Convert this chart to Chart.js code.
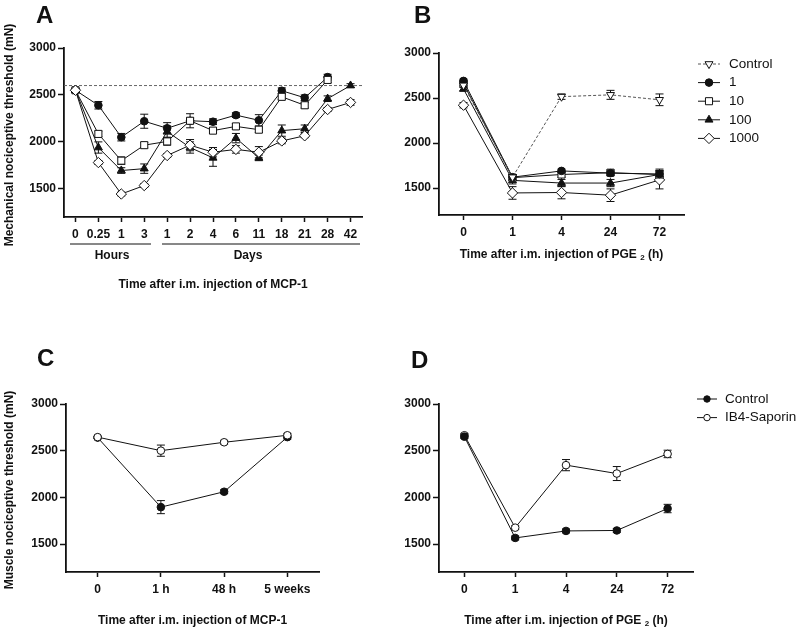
<!DOCTYPE html>
<html><head><meta charset="utf-8">
<script src="https://cdn.jsdelivr.net/npm/chart.js@4.4.1/dist/chart.umd.min.js"></script>
<style>
html,body{margin:0;padding:0;background:#fff;width:800px;height:630px;overflow:hidden}
canvas{position:absolute}
</style></head><body>
<canvas id="cA" width="380" height="300" style="left:0;top:0"></canvas>
<canvas id="cB" width="420" height="300" style="left:380px;top:0"></canvas>
<canvas id="cC" width="380" height="330" style="left:0;top:300px"></canvas>
<canvas id="cD" width="420" height="330" style="left:380px;top:300px"></canvas>
<script>
// ---------- DATA ----------
const yTicks = [1500, 2000, 2500, 3000];
const yMin = 1200, yMax = 3000;

// Panel A
const catsA = ['0','0.25','1','3','1','2','4','6','11','18','21','28','42'];
const refA = 2600;
const a1      = [2550, 2390, 2050, 2220, 2145, 2225, 2215, 2285, 2230, 2545, 2470, 2690];
const a1Err   = [  20,   40,   40,   75,   60,   30,   30,   25,   60,   30,   30,   30];
const a10     = [2550, 2085, 1800, 1965, 2005, 2225, 2120, 2165, 2130, 2480, 2390, 2660];
const a10Err  = [  20,   30,   40,   30,   40,   75,   30,   30,   30,   30,   30,   30];
const a100    = [2550, 1940, 1695, 1715, 2110, 1940, 1830, 2040, 1830, 2120, 2140, 2460, 2600];
const a100Err = [  20,   60,   30,   50,   60,   60,   90,   50,   30,   60,   40,   30,   20];
const a1000   = [2550, 1780, 1445, 1535, 1855, 1965, 1890, 1920, 1890, 2010, 2065, 2345, 2420];
const a1000Err= [  20,   20,   20,   20,   20,   60,   50,   40,   60,   30,   20,   20,   30];

// Panel B
const catsB = ['0','1','4','24','72'];
const bCtrl    = [2640, 1620, 2515, 2535, 2480];
const bCtrlErr = [  20,   30,   30,   50,   65];
const b1       = [2690, 1620, 1690, 1665, 1655];
const b1Err    = [  20,   30,   20,   20,   40];
const b10      = [2660, 1615, 1650, 1670, 1650];
const b10Err   = [  20,   30,   30,   30,   40];
const b100     = [2600, 1585, 1555, 1555, 1650];
const b100Err  = [  20,   40,   40,   40,   60];
const b1000    = [2420, 1445, 1450, 1420, 1590];
const b1000Err = [  30,   70,   70,   70,  100];

// Panel C
const catsC = ['0','1 h','48 h','5 weeks'];
const cCtrl    = [2640, 1895, 2060, 2645];
const cCtrlErr = [  10,   70,   20,   20];
const cSap     = [2645, 2500, 2590, 2665];
const cSapErr  = [  10,   60,   20,   20];

// Panel D
const catsD = ['0','1','4','24','72'];
const dCtrl    = [2650, 1565, 1640, 1645, 1880];
const dCtrlErr = [  20,   20,   20,   20,   45];
const dSap     = [2665, 1675, 2345, 2255, 2465];
const dSapErr  = [  20,   20,   60,   75,   40];

// ---------- STYLE ----------
const FF = "'Liberation Sans', Arial, sans-serif";
const INK = '#111';

const errorBars = {
  id: 'errorBars',
  beforeDatasetsDraw(chart) {
    const ctx = chart.ctx, ys = chart.scales.y;
    chart.data.datasets.forEach((ds, i) => {
      if (!ds.errors) return;
      const meta = chart.getDatasetMeta(i);
      ctx.save();
      ctx.strokeStyle = INK; ctx.lineWidth = 1; ctx.setLineDash([]);
      meta.data.forEach((pt, j) => {
        const v = ds.data[j], e = ds.errors[j];
        if (v == null || !e) return;
        const y1 = ys.getPixelForValue(v - e), y2 = ys.getPixelForValue(v + e);
        ctx.beginPath();
        ctx.moveTo(pt.x, y1); ctx.lineTo(pt.x, y2);
        ctx.moveTo(pt.x - 4, y1); ctx.lineTo(pt.x + 4, y1);
        ctx.moveTo(pt.x - 4, y2); ctx.lineTo(pt.x + 4, y2);
        ctx.stroke();
      });
      ctx.restore();
    });
  }
};
Chart.register(errorBars);

function series(label, data, errors, style, extra) {
  const s = {
    circle:   {pointStyle:'circle',   radius:3.8, bg:INK,   rot:0},
    circleO:  {pointStyle:'circle',   radius:3.8, bg:'#fff',rot:0},
    rect:     {pointStyle:'rect',     radius:5,   bg:'#fff',rot:0},
    tri:      {pointStyle:'triangle', radius:4.6, bg:INK,   rot:0},
    diamond:  {pointStyle:'rectRot',  radius:5.2, bg:'#fff',rot:0},
    triDown:  {pointStyle:'triangle', radius:4.6, bg:'#fff',rot:180}
  }[style];
  return Object.assign({
    label, data, errors,
    borderColor: INK, borderWidth: 1, tension: 0, fill: false,
    pointStyle: s.pointStyle, pointRadius: s.radius, pointHoverRadius: s.radius,
    pointRotation: s.rot, pointBackgroundColor: s.bg, pointBorderColor: INK, pointBorderWidth: 1
  }, extra || {});
}

function scales(cats, yW, xH) {
  const gridCommon = {display:true, drawOnChartArea:false, drawTicks:true, tickColor:INK, tickWidth:1.5, offset:false};
  return {
    x: {
      type:'category', labels:cats, offset:true,
      grid: Object.assign({tickLength:5}, gridCommon),
      border: {display:true, color:INK, width:1.8},
      ticks: {color:INK, font:{family:FF, size:12, weight:'bold'}, padding:5, maxRotation:0, autoSkip:false},
      afterFit(s){ s.height = xH; }
    },
    y: {
      type:'linear', min:yMin, max:yMax,
      afterBuildTicks(s){ s.ticks = yTicks.map(v => ({value:v})); },
      grid: Object.assign({tickLength:6}, gridCommon),
      border: {display:true, color:INK, width:1.8},
      ticks: {color:INK, font:{family:FF, size:12, weight:'bold'}, padding:2, callback: v => String(v)},
      afterFit(s){ s.width = yW; }
    }
  };
}

function txt(ctx, t, x, y, font, align) {
  ctx.save(); ctx.fillStyle = INK; ctx.font = font;
  ctx.textAlign = align || 'center'; ctx.textBaseline = 'middle';
  ctx.fillText(t, x, y); ctx.restore();
}
function vtxt(ctx, t, x, y, font) {
  ctx.save(); ctx.translate(x, y); ctx.rotate(-Math.PI/2);
  ctx.fillStyle = INK; ctx.font = font; ctx.textAlign = 'center'; ctx.textBaseline = 'middle';
  ctx.fillText(t, 0, 0); ctx.restore();
}
function pgeTitle(ctx, cx, y) {
  const f1 = 'bold 12px ' + FF, f2 = 'bold 8px ' + FF;
  const p1 = 'Time after i.m. injection of PGE ', p2 = '2', p3 = ' (h)';
  ctx.save(); ctx.fillStyle = INK; ctx.textBaseline = 'middle'; ctx.textAlign = 'left';
  ctx.font = f1; const w1 = ctx.measureText(p1).width, w3 = ctx.measureText(p3).width;
  ctx.font = f2; const w2 = ctx.measureText(p2).width;
  let x = cx - (w1 + w2 + w3) / 2;
  ctx.font = f1; ctx.fillText(p1, x, y); x += w1;
  ctx.font = f2; ctx.fillText(p2, x, y + 3); x += w2;
  ctx.font = f1; ctx.fillText(p3, x, y);
  ctx.restore();
}
function legend(chart, x0, x1, tx, y0, dy, rScale, fontSize) {
  const ctx = chart.ctx;
  chart.data.datasets.forEach((ds, i) => {
    const y = y0 + i * dy;
    ctx.save();
    ctx.strokeStyle = ds.borderColor; ctx.lineWidth = 1;
    ctx.setLineDash(ds.borderDash || []);
    ctx.beginPath(); ctx.moveTo(x0, y); ctx.lineTo(x1, y); ctx.stroke();
    ctx.setLineDash([]);
    ctx.fillStyle = ds.pointBackgroundColor; ctx.strokeStyle = ds.pointBorderColor; ctx.lineWidth = 1;
    Chart.helpers.drawPoint(ctx, {pointStyle: ds.pointStyle, radius: ds.pointRadius * rScale,
      rotation: ds.pointRotation, borderWidth: 1}, (x0 + x1) / 2, y);
    ctx.restore();
    txt(ctx, ds.label, tx, y, fontSize + 'px ' + FF, 'left');
  });
}

const TITLE = 'bold 12px ' + FF;
const LETTER = 'bold 24px ' + FF;

function baseOpts(cats, pad, yW, xH) {
  return {
    responsive:false, animation:false, devicePixelRatio:1,
    layout:{padding:pad},
    plugins:{legend:{display:false}, tooltip:{enabled:false}, title:{display:false}},
    scales: scales(cats, yW, xH)
  };
}

// ---------- PANEL A ----------
new Chart(document.getElementById('cA'), {
  type:'line',
  data:{ labels:catsA, datasets:[
    series('1000', a1000, a1000Err, 'diamond'),
    series('100', a100, a100Err, 'tri'),
    series('10', a10, a10Err, 'rect'),
    series('1', a1, a1Err, 'circle')
  ]},
  options: baseOpts(catsA, {left:0, top:48, right:18, bottom:0}, 64, 83),
  plugins:[{
    id:'decoA',
    beforeDatasetsDraw(chart){
      const ctx = chart.ctx, a = chart.chartArea, y = chart.scales.y.getPixelForValue(refA);
      ctx.save(); ctx.strokeStyle = '#666'; ctx.lineWidth = 1; ctx.setLineDash([3,2]);
      ctx.beginPath(); ctx.moveTo(a.left, y); ctx.lineTo(a.right, y); ctx.stroke(); ctx.restore();
    },
    afterDraw(chart){
      const ctx = chart.ctx, a = chart.chartArea;
      txt(ctx, 'A', 36, 16, LETTER, 'left');
      vtxt(ctx, 'Mechanical nociceptive threshold (mN)', 10, 135, TITLE);
      ctx.save(); ctx.strokeStyle = INK; ctx.lineWidth = 1;
      ctx.beginPath(); ctx.moveTo(70, 244); ctx.lineTo(151, 244);
      ctx.moveTo(162, 244); ctx.lineTo(360, 244); ctx.stroke(); ctx.restore();
      txt(ctx, 'Hours', 112, 256, TITLE);
      txt(ctx, 'Days', 248, 256, TITLE);
      txt(ctx, 'Time after i.m. injection of MCP-1', (a.left + a.right) / 2, 285, TITLE);
    }
  }]
});

// ---------- PANEL B ----------
new Chart(document.getElementById('cB'), {
  type:'line',
  data:{ labels:catsB, datasets:[
    series('Control', bCtrl, bCtrlErr, 'triDown', {borderColor:'#555', borderDash:[3,2]}),
    series('1', b1, b1Err, 'circle'),
    series('10', b10, b10Err, 'rect'),
    series('100', b100, b100Err, 'tri'),
    series('1000', b1000, b1000Err, 'diamond')
  ]},
  options: baseOpts(catsB, {left:0, top:53, right:116, bottom:0}, 59, 85),
  plugins:[{
    id:'decoB',
    afterDraw(chart){
      const ctx = chart.ctx, a = chart.chartArea;
      txt(ctx, 'B', 34, 16, LETTER, 'left');
      pgeTitle(ctx, (a.left + a.right) / 2, 255);
      legend(chart, 318, 340, 349, 64, 18.6, 1, 13.5);
    }
  }]
});

// ---------- PANEL C ----------
new Chart(document.getElementById('cC'), {
  type:'line',
  data:{ labels:catsC, datasets:[
    series('IB4-Saporin', cSap, cSapErr, 'circleO'),
    series('Control', cCtrl, cCtrlErr, 'circle')
  ]},
  options: baseOpts(catsC, {left:0, top:104, right:61, bottom:0}, 66, 58),
  plugins:[{
    id:'decoC',
    afterDraw(chart){
      const ctx = chart.ctx, a = chart.chartArea;
      txt(ctx, 'C', 37, 59, LETTER, 'left');
      vtxt(ctx, 'Muscle nociceptive threshold (mN)', 10, 190, TITLE);
      txt(ctx, 'Time after i.m. injection of MCP-1', (a.left + a.right) / 2, 321, TITLE);
    }
  }]
});

// ---------- PANEL D ----------
new Chart(document.getElementById('cD'), {
  type:'line',
  data:{ labels:catsD, datasets:[
    series('Control', dCtrl, dCtrlErr, 'circle'),
    series('IB4-Saporin', dSap, dSapErr, 'circleO')
  ]},
  options: baseOpts(catsD, {left:0, top:104, right:107, bottom:0}, 59, 58),
  plugins:[{
    id:'decoD',
    afterDraw(chart){
      const ctx = chart.ctx, a = chart.chartArea;
      txt(ctx, 'D', 31, 61, LETTER, 'left');
      pgeTitle(ctx, (a.left + a.right) / 2, 321);
      legend(chart, 317, 337, 345, 99, 18.6, 0.85, 13.5);
    }
  }]
});
</script>
</body></html>
